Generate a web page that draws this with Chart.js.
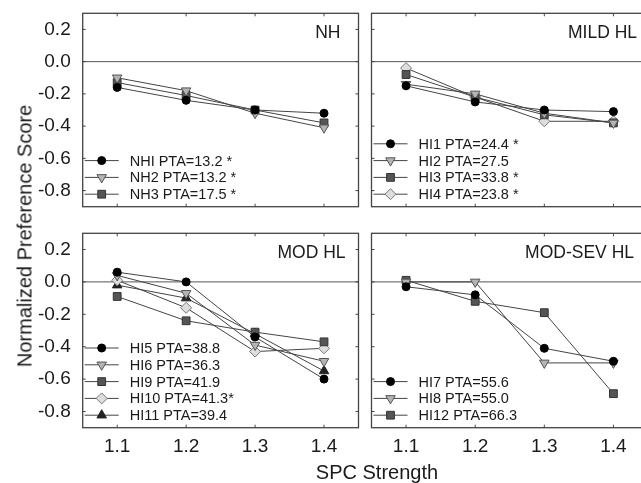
<!DOCTYPE html>
<html>
<head>
<meta charset="utf-8">
<script src="https://cdn.jsdelivr.net/npm/chart.js@4.4.1/dist/chart.umd.min.js"></script>
<style>
  html, body { margin: 0; padding: 0; background: #fff; width: 641px; height: 483px; overflow: hidden; position: relative; }
  canvas { position: absolute; }
  .axt { position: absolute; font-family: "Liberation Sans", Arial, sans-serif; font-size: 20px; color: #1a1a1a; white-space: nowrap; transform: translate(-50%, -50%); }
</style>
</head>
<body>
<canvas id="nhChart" width="365" height="215" style="left:0;top:0"></canvas>
<canvas id="mildChart" width="290" height="215" style="left:365px;top:0"></canvas>
<canvas id="modChart" width="365" height="250" style="left:0;top:220px"></canvas>
<canvas id="sevChart" width="290" height="250" style="left:365px;top:220px"></canvas>
<div class="axt" style="left:25px;top:236px;transform:translate(-50%,-50%) rotate(-90deg)">Normalized Preference Score</div>
<div class="axt" style="left:377px;top:472px">SPC Strength</div>
<script>
const strengths = [1.1, 1.2, 1.3, 1.4];
const yTicks = [0.2, 0.0, -0.2, -0.4, -0.6, -0.8];

// NH
const nh1 = [-0.16, -0.24, -0.30, -0.32];
const nh2 = [-0.10, -0.18, -0.32, -0.41];
const nh3 = [-0.13, -0.21, -0.30, -0.38];
// MILD HL
const hi1 = [-0.15, -0.25, -0.30, -0.31];
const hi2 = [-0.14, -0.20, -0.32, -0.38];
const hi3 = [-0.08, -0.22, -0.33, -0.38];
const hi4 = [-0.04, -0.22, -0.37, -0.37];
// MOD HL
const hi5 = [0.06, 0.00, -0.34, -0.60];
const hi6 = [0.04, -0.07, -0.39, -0.49];
const hi9 = [-0.09, -0.24, -0.31, -0.37];
const hi10 = [0.01, -0.16, -0.43, -0.41];
const hi11 = [-0.02, -0.10, -0.32, -0.55];
// MOD-SEV HL
const hi7 = [-0.03, -0.08, -0.41, -0.49];
const hi8 = [0.00, 0.00, -0.50, -0.50];
const hi12 = [0.01, -0.12, -0.19, -0.69];

const FONT = '"Liberation Sans", Arial, sans-serif';
const LINE = '#444';

const markers = {
    circle:  { pointStyle: 'circle', radius: 4, rotation: 0, fill: '#000', stroke: '#000' },
    tridown: { pointStyle: 'triangle', radius: 5.5, rotation: 180, fill: '#b4b4b4', stroke: '#555' },
    square:  { pointStyle: 'rect', radius: 5.5, rotation: 0, fill: '#555', stroke: '#333' },
    diamond: { pointStyle: 'rectRot', radius: 5.5, rotation: 0, fill: '#ddd', stroke: '#777' },
    triup:   { pointStyle: 'triangle', radius: 5.5, rotation: 0, fill: '#222', stroke: '#222' }
};

const panels = [
    { id: 'nhChart', title: 'NH', titleInset: 18, left: true, bottom: false, pad: { left: 0, right: 3.3, top: 13.3, bottom: 8.3 },
      series: [['NHI PTA=13.2 *', nh1, 'circle'], ['NH2 PTA=13.2 *', nh2, 'tridown'], ['NH3 PTA=17.5 *', nh3, 'square']] },
    { id: 'mildChart', title: 'MILD HL', titleInset: 11, left: false, bottom: false, pad: { left: 6, right: 7, top: 13.3, bottom: 8.3 },
      series: [['HI1 PTA=24.4 *', hi1, 'circle'], ['HI2 PTA=27.5', hi2, 'tridown'], ['HI3 PTA=33.8 *', hi3, 'square'], ['HI4 PTA=23.8 *', hi4, 'diamond']] },
    { id: 'modChart', title: 'MOD HL', titleInset: 13, left: true, bottom: true, pad: { left: 0, right: 3.3, top: 13.3, bottom: 2.3 },
      series: [['HI5 PTA=38.8', hi5, 'circle'], ['HI6 PTA=36.3', hi6, 'tridown'], ['HI9 PTA=41.9', hi9, 'square'], ['HI10 PTA=41.3*', hi10, 'diamond'], ['HI11 PTA=39.4', hi11, 'triup']] },
    { id: 'sevChart', title: 'MOD-SEV HL', titleInset: 14, left: false, bottom: true, pad: { left: 6, right: 7, top: 13.3, bottom: 2.3 },
      series: [['HI7 PTA=55.6', hi7, 'circle'], ['HI8 PTA=55.0', hi8, 'tridown'], ['HI12 PTA=66.3', hi12, 'square']] }
];

// frame, zero line, inward ticks, title and in-panel legend
const panelDecor = {
    id: 'panelDecor',
    beforeDatasetsDraw(chart) {
        const { ctx, chartArea: a, scales } = chart;
        const y0 = scales.y.getPixelForValue(0);
        ctx.save();
        ctx.strokeStyle = '#555';
        ctx.lineWidth = 1;
        ctx.beginPath();
        ctx.moveTo(a.left, y0);
        ctx.lineTo(a.right, y0);
        ctx.stroke();
        ctx.restore();
    },
    afterDraw(chart, args, opts) {
        const { ctx, chartArea: a, scales } = chart;
        ctx.save();
        ctx.strokeStyle = '#444';
        ctx.lineWidth = 1.3;
        ctx.strokeRect(a.left, a.top, a.right - a.left, a.bottom - a.top);
        ctx.lineWidth = 1;
        ctx.beginPath();
        strengths.forEach(v => {
            const x = scales.x.getPixelForValue(v);
            ctx.moveTo(x, a.top); ctx.lineTo(x, a.top + 3);
            ctx.moveTo(x, a.bottom); ctx.lineTo(x, a.bottom - 3);
        });
        yTicks.forEach(v => {
            const y = scales.y.getPixelForValue(v);
            ctx.moveTo(a.left, y); ctx.lineTo(a.left + 3, y);
            ctx.moveTo(a.right, y); ctx.lineTo(a.right - 3, y);
        });
        ctx.stroke();

        ctx.fillStyle = '#1a1a1a';
        ctx.font = '17.5px ' + FONT;
        ctx.textAlign = 'right';
        ctx.textBaseline = 'middle';
        ctx.fillText(opts.title, a.right - opts.titleInset, a.top + 20);

        const n = chart.data.datasets.length;
        ctx.font = '14.5px ' + FONT;
        ctx.textAlign = 'left';
        chart.data.datasets.forEach((ds, i) => {
            const y = a.bottom - 12.5 - (n - 1 - i) * 16.8;
            ctx.strokeStyle = LINE;
            ctx.lineWidth = 1;
            ctx.beginPath();
            ctx.moveTo(a.left + 2, y);
            ctx.lineTo(a.left + 36, y);
            ctx.stroke();
            const m = markers[ds.marker];
            ctx.fillStyle = m.fill;
            ctx.strokeStyle = m.stroke;
            Chart.helpers.drawPoint(ctx, { pointStyle: m.pointStyle, radius: m.radius, rotation: m.rotation, borderWidth: 1 }, a.left + 19, y);
            ctx.fillStyle = '#1a1a1a';
            ctx.fillText(ds.label, a.left + 47, y + 1);
        });
        ctx.restore();
    }
};

// no extra room for half tick labels: the layout padding places the plot box
const noScalePadding = s => {
    s.paddingTop = 0;
    s.paddingBottom = 0;
    s.paddingLeft = 0;
    s.paddingRight = 0;
};

const createPanel = (p) => {
    const ctx = document.getElementById(p.id).getContext('2d');
    const datasets = p.series.map(([label, values, marker]) => {
        const m = markers[marker];
        return {
            label: label,
            marker: marker,
            data: values.map((v, i) => ({ x: strengths[i], y: v })),
            borderColor: LINE,
            borderWidth: 1,
            tension: 0,
            pointStyle: m.pointStyle,
            pointRadius: m.radius,
            pointRotation: m.rotation,
            pointBackgroundColor: m.fill,
            pointBorderColor: m.stroke,
            pointBorderWidth: 1
        };
    });

    return new Chart(ctx, {
        type: 'line',
        data: { datasets: datasets },
        options: {
            responsive: false,
            animation: false,
            devicePixelRatio: 1,
            layout: { padding: p.pad },
            plugins: {
                legend: { display: false },
                tooltip: { enabled: false },
                panelDecor: { title: p.title, titleInset: p.titleInset }
            },
            scales: {
                x: {
                    type: 'linear',
                    min: 1.05,
                    max: 1.45,
                    grid: { display: false, drawTicks: false },
                    border: { display: false },
                    afterBuildTicks: s => { s.ticks = strengths.map(v => ({ value: v })); },
                    afterFit: s => { s.height = p.bottom ? 40 : 0; noScalePadding(s); },
                    ticks: {
                        display: p.bottom,
                        padding: 8,
                        color: '#1a1a1a',
                        font: { family: FONT, size: 19 },
                        maxRotation: 0,
                        callback: v => v.toFixed(1)
                    }
                },
                y: {
                    min: -0.9,
                    max: 0.3,
                    grid: { display: false, drawTicks: false },
                    border: { display: false },
                    afterBuildTicks: s => { s.ticks = yTicks.map(v => ({ value: v })); },
                    afterFit: s => { s.width = p.left ? 82.7 : 0; noScalePadding(s); },
                    ticks: {
                        display: p.left,
                        padding: 12,
                        color: '#1a1a1a',
                        font: { family: FONT, size: 19 },
                        callback: v => v.toFixed(1)
                    }
                }
            }
        },
        plugins: [panelDecor]
    });
};

panels.forEach(createPanel);
</script>
</body>
</html>
